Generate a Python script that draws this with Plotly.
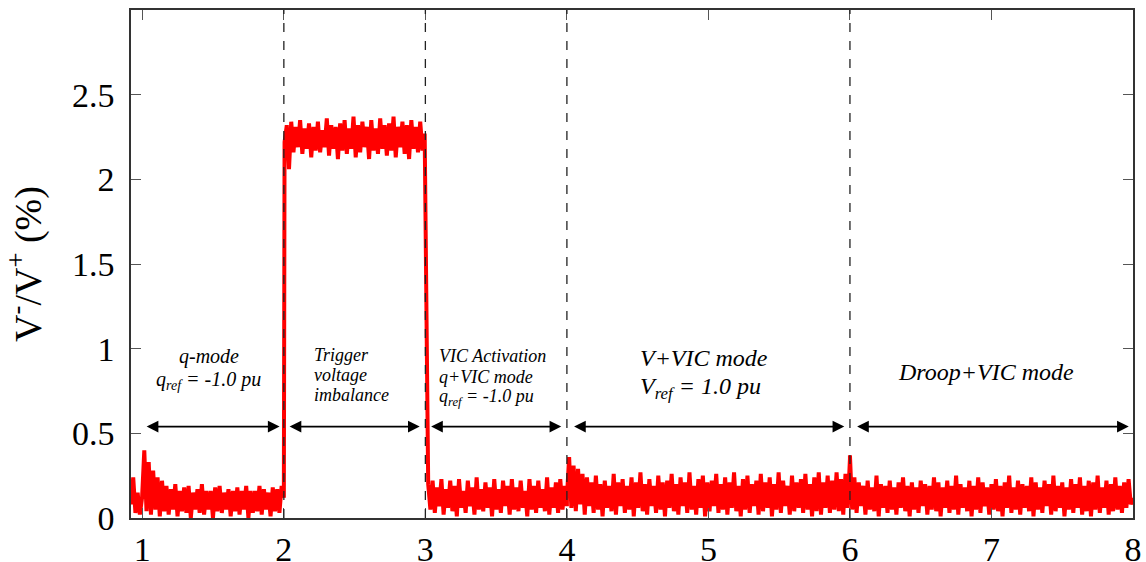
import numpy as np
import plotly.graph_objects as go

# --- data ---
# segment edges on the time axis (s)
seg_edges = [(0.92, 2.0), (2.005, 2.995), (3.02, 4.0), (4.0, 6.0), (6.0, 8.0)]

q_mode = [0.08, 0.24, 0.03, 0.15, 0.02, 0.12, 0.40, 0.04, 0.33, 0.02, 0.28, 0.05, 0.24, 0.01,
          0.22, 0.04, 0.19, 0.02, 0.17, 0.05, 0.20, 0.01, 0.16, 0.04, 0.18, 0.03, 0.19, 0.00,
          0.15, 0.05, 0.17, 0.03, 0.20, 0.02, 0.16, 0.05, 0.16, 0.00, 0.18, 0.04, 0.19, 0.03,
          0.15, 0.05, 0.17, 0.01, 0.16, 0.04, 0.18, 0.02, 0.16, 0.05, 0.19, 0.00, 0.16, 0.03,
          0.16, 0.04, 0.19, 0.02, 0.17, 0.05, 0.15, 0.01, 0.18, 0.04, 0.17, 0.03, 0.19, 0.12]
trigger = [2.22, 2.32, 2.06, 2.34, 2.16, 2.31, 2.19, 2.35, 2.15, 2.30, 2.18, 2.33, 2.13, 2.31,
           2.17, 2.34, 2.16, 2.29, 2.19, 2.36, 2.14, 2.32, 2.18, 2.31, 2.12, 2.33, 2.17, 2.35,
           2.15, 2.30, 2.18, 2.37, 2.13, 2.32, 2.16, 2.34, 2.19, 2.31, 2.12, 2.35, 2.17, 2.30,
           2.15, 2.36, 2.18, 2.32, 2.14, 2.33, 2.17, 2.37, 2.13, 2.31, 2.19, 2.34, 2.15, 2.32,
           2.12, 2.35, 2.18, 2.31, 2.16, 2.34, 2.17, 2.27]
vic_q = [0.20, 0.05, 0.22, 0.03, 0.18, 0.07, 0.23, 0.02, 0.17, 0.06, 0.22, 0.04, 0.19, 0.01,
         0.23, 0.06, 0.16, 0.03, 0.22, 0.07, 0.18, 0.02, 0.24, 0.05, 0.17, 0.04, 0.21, 0.06,
         0.18, 0.01, 0.23, 0.05, 0.17, 0.03, 0.22, 0.07, 0.19, 0.02, 0.23, 0.05, 0.18, 0.04,
         0.22, 0.06, 0.16, 0.01, 0.23, 0.05, 0.19, 0.03, 0.22, 0.06, 0.17, 0.04, 0.24, 0.02,
         0.18, 0.06, 0.21, 0.03, 0.23, 0.05, 0.19, 0.07]
v_vic = [0.12, 0.36, 0.06, 0.31, 0.04, 0.29, 0.08, 0.26, 0.02, 0.24, 0.07, 0.21, 0.03, 0.25,
         0.05, 0.20, 0.01, 0.22, 0.06, 0.19, 0.04, 0.26, 0.02, 0.21, 0.07, 0.23, 0.03, 0.19,
         0.05, 0.24, 0.01, 0.21, 0.06, 0.27, 0.04, 0.20, 0.02, 0.23, 0.07, 0.19, 0.03, 0.25,
         0.05, 0.21, 0.01, 0.22, 0.06, 0.26, 0.04, 0.20, 0.02, 0.24, 0.07, 0.21, 0.03, 0.27,
         0.05, 0.19, 0.02, 0.23, 0.06, 0.25, 0.01, 0.21, 0.04, 0.22, 0.07, 0.26, 0.03, 0.20,
         0.05, 0.24, 0.02, 0.21, 0.06, 0.27, 0.04, 0.19, 0.01, 0.23, 0.05, 0.25, 0.03, 0.20,
         0.07, 0.22, 0.02, 0.26, 0.04, 0.21, 0.06, 0.24, 0.01, 0.20, 0.05, 0.27, 0.03, 0.22,
         0.07, 0.19, 0.02, 0.25, 0.04, 0.21, 0.06, 0.23, 0.03, 0.26, 0.05, 0.20, 0.01, 0.24,
         0.04, 0.27, 0.02, 0.21, 0.06, 0.25, 0.03, 0.22, 0.05, 0.27, 0.04, 0.23, 0.02, 0.26,
         0.06, 0.35]
droop_vic = [0.37, 0.05, 0.24, 0.03, 0.21, 0.07, 0.19, 0.02, 0.22, 0.05, 0.18, 0.04, 0.25, 0.01,
             0.20, 0.06, 0.19, 0.03, 0.22, 0.05, 0.18, 0.02, 0.21, 0.06, 0.24, 0.04, 0.19, 0.01,
             0.21, 0.05, 0.18, 0.03, 0.22, 0.07, 0.20, 0.02, 0.19, 0.05, 0.24, 0.04, 0.21, 0.01,
             0.18, 0.06, 0.22, 0.03, 0.19, 0.05, 0.25, 0.02, 0.20, 0.06, 0.18, 0.04, 0.22, 0.01,
             0.19, 0.05, 0.24, 0.03, 0.21, 0.07, 0.18, 0.02, 0.20, 0.05, 0.23, 0.04, 0.19, 0.01,
             0.21, 0.06, 0.25, 0.03, 0.18, 0.05, 0.22, 0.02, 0.20, 0.06, 0.19, 0.04, 0.24, 0.01,
             0.21, 0.05, 0.18, 0.03, 0.22, 0.07, 0.20, 0.02, 0.25, 0.04, 0.19, 0.06, 0.21, 0.01,
             0.18, 0.05, 0.23, 0.03, 0.20, 0.06, 0.24, 0.02, 0.19, 0.04, 0.22, 0.01, 0.21, 0.05,
             0.25, 0.03, 0.18, 0.06, 0.22, 0.02, 0.20, 0.04, 0.24, 0.05, 0.19, 0.03, 0.21, 0.06,
             0.23, 0.08, 0.12]

segments = [q_mode, trigger, vic_q, v_vic, droop_vic]

# event times (dashed markers) and phase arrows
event_times = [2, 3, 4, 6]
arrow_starts = [1.02, 2.03, 3.03, 4.04, 6.04]
arrow_ends = [1.97, 2.96, 3.96, 5.96, 7.97]
arrow_level = 0.54

SERIF = "Liberation Serif"

t_all, y_all = [], []
for (t0, t1), vals in zip(seg_edges, segments):
    t_all.extend(np.linspace(t0, t1, len(vals)))
    y_all.extend(vals)

fig = go.Figure()
fig.add_trace(go.Scatter(x=t_all, y=y_all, mode="lines",
                         line=dict(color="#ff0000", width=4), showlegend=False))

for t in event_times:
    fig.add_shape(type="line", x0=t, x1=t, y0=0, y1=1, xref="x", yref="paper",
                  line=dict(color="#222222", width=1.3, dash="dash"))

for a, b in zip(arrow_starts, arrow_ends):
    fig.add_annotation(x=b, y=arrow_level, ax=a, ay=arrow_level, xref="x", yref="y",
                       axref="x", ayref="y", text="", showarrow=True, arrowhead=2,
                       arrowside="end+start", arrowsize=1.3, arrowwidth=1.8, arrowcolor="black")

labels = [
    # (x, y, text, size, anchor)
    (1.47, 0.955, "<i>q-mode</i>", 20, "center"),
    (1.47, 0.81, "<i>q<sub>ref</sub> = -1.0 pu</i>", 20, "center"),
    (2.2, 0.965, "<i>Trigger</i>", 18, "left"),
    (2.2, 0.845, "<i>voltage</i>", 18, "left"),
    (2.2, 0.725, "<i>imbalance</i>", 18, "left"),
    (3.085, 0.955, "<i>VIC Activation</i>", 18, "left"),
    (3.085, 0.83, "<i>q+VIC mode</i>", 18, "left"),
    (3.085, 0.71, "<i>q<sub>ref</sub> = -1.0 pu</i>", 18, "left"),
    (4.5, 0.945, "<i>V+VIC mode</i>", 24, "left"),
    (4.5, 0.77, "<i>V<sub>ref</sub> = 1.0 pu</i>", 24, "left"),
    (6.96, 0.86, "<i>Droop+VIC mode</i>", 24, "center"),
]
for x, y, txt, size, anchor in labels:
    fig.add_annotation(x=x, y=y, xref="x", yref="y", text=txt, showarrow=False,
                       xanchor=anchor, yanchor="middle",
                       font=dict(family=SERIF, size=size, color="black"))

axis_common = dict(showline=True, linecolor="#333333", linewidth=1.5, mirror="ticks",
                   ticks="inside", ticklen=10, tickwidth=1.2, tickcolor="#555555",
                   showgrid=False, zeroline=False, automargin=False,
                   tickfont=dict(family=SERIF, size=34, color="black"))

fig.update_xaxes(range=[0.92, 8.0], tickvals=[1, 2, 3, 4, 5, 6, 7, 8],
                 ticklabelstandoff=0, **axis_common)
fig.update_yaxes(range=[0, 3.0], tickvals=[0, 0.5, 1, 1.5, 2, 2.5],
                 ticktext=["0", "0.5", "1", "1.5", "2", "2.5"], ticklabelstandoff=8,
                 title=dict(text="V<sup>-</sup>/V<sup>+</sup> (%)",
                            font=dict(family=SERIF, size=38, color="black"), standoff=19),
                 **axis_common)

fig.update_layout(width=1146, height=562, plot_bgcolor="white", paper_bgcolor="white",
                  margin=dict(l=131, r=13, t=10, b=44))

# drop the default page margin so the figure sits at the window's top-left corner
fig.write_html("out.html", config={"displayModeBar": False},
               post_script="document.body.style.margin='0px';")
